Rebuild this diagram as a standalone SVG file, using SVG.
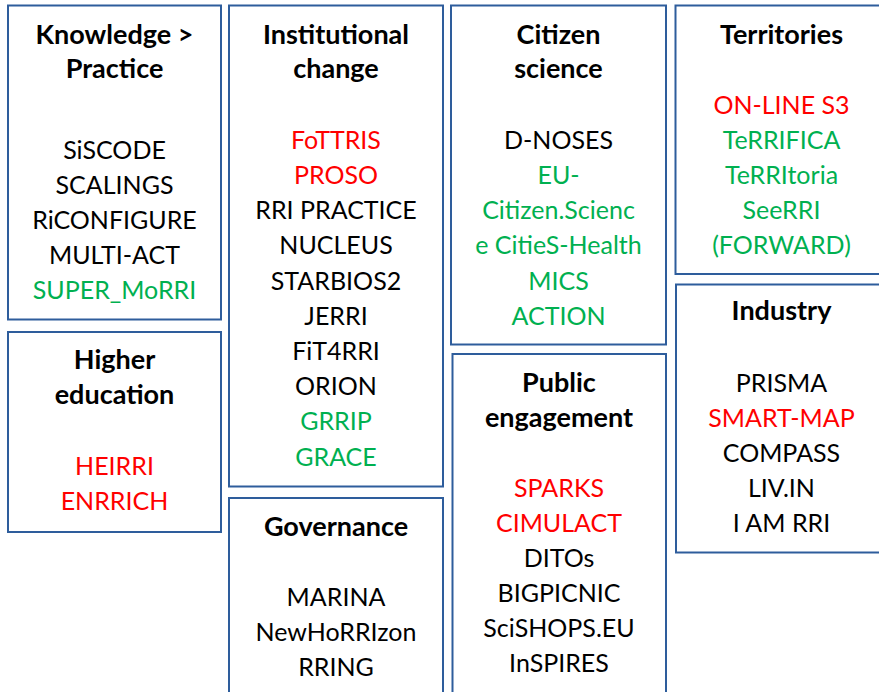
<svg xmlns="http://www.w3.org/2000/svg" width="879" height="692" viewBox="0 0 879 692">
<style>
rect.box{fill:#fff;stroke:#2E5D9C;stroke-width:2}
text{font-family:Lato,"Open Sans","Liberation Sans",sans-serif;font-size:25px;text-anchor:middle;fill:#000}
text.t{font-weight:bold;font-size:27px}
.r{fill:#FF0000}
.g{fill:#00B050}
</style>
<rect width="879" height="692" fill="#fff"/>
<g id="knowledge">
<rect class="box" x="8" y="5.5" width="213" height="314"/>
<text class="t" x="114.5" y="44">Knowledge &gt;</text>
<text class="t" x="114.5" y="78">Practice</text>
<text x="114.5" y="159">SiSCODE</text>
<text x="114.5" y="194">SCALINGS</text>
<text x="114.5" y="229">RiCONFIGURE</text>
<text x="114.5" y="264">MULTI-ACT</text>
<text class="g" x="114.5" y="299">SUPER_MoRRI</text>
</g>
<g id="higher-education">
<rect class="box" x="8" y="332" width="213" height="200"/>
<text class="t" x="114.5" y="369">Higher</text>
<text class="t" x="114.5" y="404">education</text>
<text class="r" x="114.5" y="475">HEIRRI</text>
<text class="r" x="114.5" y="510">ENRRICH</text>
</g>
<g id="institutional-change">
<rect class="box" x="229" y="5.5" width="214" height="481"/>
<text class="t" x="336" y="43.5">Institutional</text>
<text class="t" x="336" y="78">change</text>
<text class="r" x="336" y="149">FoTTRIS</text>
<text class="r" x="336" y="184">PROSO</text>
<text x="336" y="219.2">RRI PRACTICE</text>
<text x="336" y="254.4">NUCLEUS</text>
<text x="336" y="289.6">STARBIOS2</text>
<text x="336" y="324.8">JERRI</text>
<text x="336" y="360">FiT4RRI</text>
<text x="336" y="395.2">ORION</text>
<text class="g" x="336" y="430.4">GRRIP</text>
<text class="g" x="336" y="465.6">GRACE</text>
</g>
<g id="governance">
<rect class="box" x="229" y="498" width="214" height="210"/>
<text class="t" x="336" y="536">Governance</text>
<text x="336" y="606">MARINA</text>
<text x="336" y="641">NewHoRRIzon</text>
<text x="336" y="676">RRING</text>
</g>
<g id="citizen-science">
<rect class="box" x="451" y="5.5" width="215" height="339"/>
<text class="t" x="558.5" y="43.5">Citizen</text>
<text class="t" x="558.5" y="78">science</text>
<text x="558.5" y="149">D-NOSES</text>
<text class="g" x="558.5" y="184">EU-</text>
<text class="g" x="558.5" y="219.2">Citizen.Scienc</text>
<text class="g" x="558.5" y="254.4">e CitieS-Health</text>
<text class="g" x="558.5" y="289.6">MICS</text>
<text class="g" x="558.5" y="324.8">ACTION</text>
</g>
<g id="public-engagement">
<rect class="box" x="452.5" y="354" width="213.5" height="360"/>
<text class="t" x="559" y="392">Public</text>
<text class="t" x="559" y="427">engagement</text>
<text class="r" x="559" y="497">SPARKS</text>
<text class="r" x="559" y="532">CIMULACT</text>
<text x="559" y="567">DITOs</text>
<text x="559" y="602">BIGPICNIC</text>
<text x="559" y="637">SciSHOPS.EU</text>
<text x="559" y="672">InSPIRES</text>
</g>
<g id="territories">
<rect class="box" x="675.5" y="5.5" width="212" height="268.5"/>
<text class="t" x="781.5" y="43.5">Territories</text>
<text class="r" x="781.5" y="114">ON-LINE S3</text>
<text class="g" x="781.5" y="149">TeRRIFICA</text>
<text class="g" x="781.5" y="184">TeRRItoria</text>
<text class="g" x="781.5" y="219.2">SeeRRI</text>
<text class="g" x="781.5" y="254.4">(FORWARD)</text>
</g>
<g id="industry">
<rect class="box" x="676" y="284.5" width="212" height="268"/>
<text class="t" x="781.5" y="320">Industry</text>
<text x="781.5" y="392">PRISMA</text>
<text class="r" x="781.5" y="427">SMART-MAP</text>
<text x="781.5" y="462">COMPASS</text>
<text x="781.5" y="497">LIV.IN</text>
<text x="781.5" y="532">I AM RRI</text>
</g>
<g id="connectors"/>
</svg>
